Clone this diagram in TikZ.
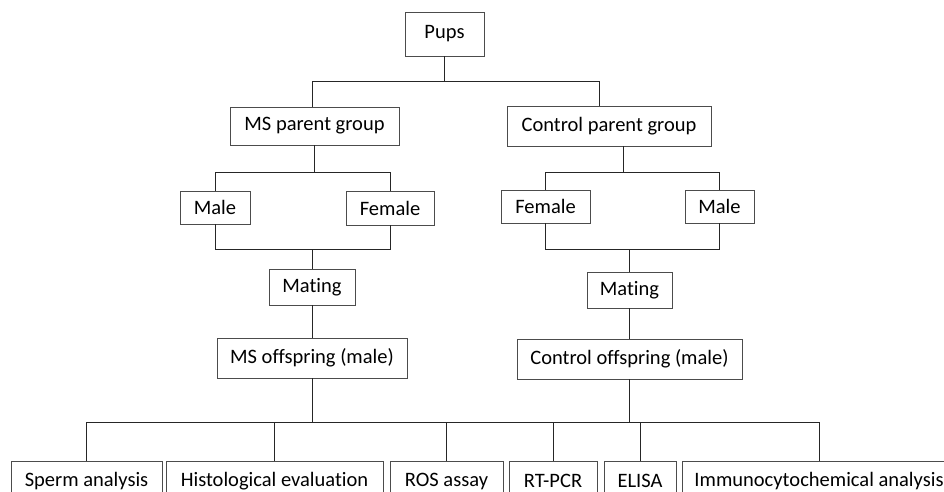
\documentclass[tikz,border=0pt]{standalone}
\usepackage{fontspec}
\setmainfont{Carlito}[Ligatures=CommonOff]
\usetikzlibrary{calc}
\begin{document}
\begin{tikzpicture}[x=1pt,y=-1pt,
  box/.style={draw=black!70,line width=0.9pt,inner sep=0pt,font=\fontsize{20.5}{24}\selectfont,text=black},
  link/.style={draw=black!85,line width=0.9pt}]
\useasboundingbox (0,0) rectangle (944,492);
\clip (0,0) rectangle (944,492);
\fill[white] (0,0) rectangle (944,492);
% nodes
\node[box,minimum width=79pt,minimum height=44pt] (pups) at (444.5,34) {Pups};
\node[box,minimum width=169pt,minimum height=38pt] (msp) at (314.5,126) {MS parent group};
\node[box,minimum width=204pt,minimum height=40pt] (cpg) at (609,126) {Control parent group};
\node[box,minimum width=70pt,minimum height=33pt] (male1) at (215,207.5) {Male};
\node[box,minimum width=88pt,minimum height=34pt] (female1) at (390,208) {Female};
\node[box,minimum width=89pt,minimum height=33pt] (female2) at (545.5,206.5) {Female};
\node[box,minimum width=69pt,minimum height=33pt] (male2) at (719.5,206.5) {Male};
\node[box,minimum width=86pt,minimum height=36pt] (mating1) at (312,287) {Mating};
\node[box,minimum width=85pt,minimum height=36pt] (mating2) at (629.5,290) {Mating};
\node[box,minimum width=190pt,minimum height=40pt] (mso) at (312,358) {MS offspring (male)};
\node[box,minimum width=225pt,minimum height=40pt] (cso) at (629.5,359) {Control offspring (male)};
\node[box,minimum width=151pt,minimum height=40pt] (sperm) at (86.5,481) {Sperm analysis};
\node[box,minimum width=217pt,minimum height=40pt] (hist) at (274.5,481) {Histological evaluation};
\node[box,minimum width=113pt,minimum height=40pt] (ros) at (446.5,481) {ROS assay};
\node[box,minimum width=88pt,minimum height=40pt] (rtpcr) at (553,481) {RT-PCR};
\node[box,minimum width=72pt,minimum height=40pt] (elisa) at (640,481) {ELISA};
\node[box,minimum width=274pt,minimum height=40pt] (immuno) at (819,481) {Immunocytochemical analysis};
% junction levels
\coordinate (t1) at (0,81);
\coordinate (t2) at (0,172);
\coordinate (t3) at (0,249);
\coordinate (bus) at (0,422);
\coordinate (mspin) at ($(msp.north)+(-2.5,0)$);
\coordinate (cpgin) at ($(cpg.north)+(-10,0)$);
\coordinate (cpgout) at ($(cpg.south)+(14,0)$);
% top
\draw[link] (pups.south) -- (pups.south |- t1);
\draw[link] (mspin) -- (mspin |- t1) -- (cpgin |- t1) -- (cpgin);
% MS side
\draw[link] (msp.south) -- (msp.south |- t2);
\draw[link] (male1.north) -- (male1.north |- t2) -- (female1.north |- t2) -- (female1.north);
\draw[link] (male1.south) -- (male1.south |- t3) -- (female1.south |- t3) -- (female1.south);
\draw[link] (mating1.north) -- (mating1.north |- t3);
\draw[link] (mating1.south) -- (mso.north);
% Control side
\draw[link] (cpgout) -- (cpgout |- t2);
\draw[link] (female2.north) -- (female2.north |- t2) -- (male2.north |- t2) -- (male2.north);
\draw[link] (female2.south) -- (female2.south |- t3) -- (male2.south |- t3) -- (male2.south);
\draw[link] (mating2.north) -- (mating2.north |- t3);
\draw[link] (mating2.south) -- (cso.north);
% bottom bus
\draw[link] (mso.south) -- (mso.south |- bus);
\draw[link] (cso.south) -- (cso.south |- bus);
\draw[link] (sperm.north) -- (sperm.north |- bus) -- (immuno.north |- bus) -- (immuno.north);
\draw[link] (hist.north) -- (hist.north |- bus);
\draw[link] (ros.north) -- (ros.north |- bus);
\draw[link] (rtpcr.north) -- (rtpcr.north |- bus);
\draw[link] (elisa.north) -- (elisa.north |- bus);
\end{tikzpicture}
\end{document}
